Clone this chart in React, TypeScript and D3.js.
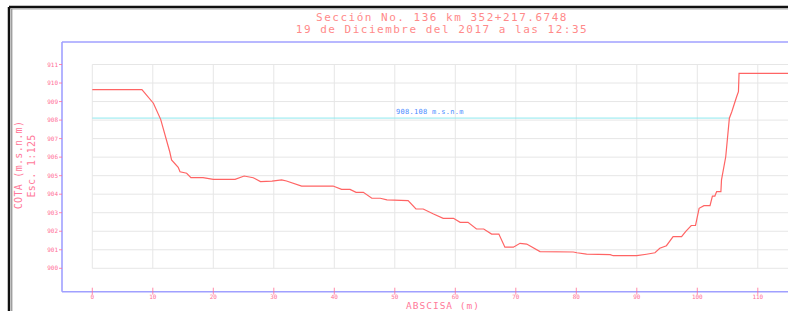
import React from "react";
import * as d3 from "d3";

// Terrain profile
const abscisa = [
  0, 8.2, 10.1, 11.3, 12.8, 13.1, 14.2, 14.5, 15.6, 16.3, 18.3, 20.0, 23.6,
  25.1, 26.6, 27.8, 29.7, 31.3, 32.1, 34.6, 39.8, 41.2, 42.6, 43.6, 44.8, 46.2,
  47.6, 48.7, 52.2, 53.5, 54.7, 56.4, 58.0, 59.7, 60.8, 62.1, 63.5, 64.7, 66.0,
  67.2, 68.2, 69.6, 70.7, 71.8, 74.0, 79.5, 80.1, 81.7, 85.6, 86.1, 90.0, 91.6,
  93.0, 93.8, 94.9, 96.0, 97.4, 98.1, 99.0, 99.7, 100.3, 101.1, 102.1, 102.5,
  102.9, 103.2, 103.9, 104.0, 104.7, 105.3, 105.7, 106.5, 106.8, 106.9, 120,
];
const cota = [
  909.64, 909.64, 908.91, 908.04, 906.29, 905.85, 905.45, 905.21, 905.13,
  904.89, 904.89, 904.8, 904.8, 904.98, 904.89, 904.68, 904.71, 904.77, 904.71,
  904.44, 904.44, 904.26, 904.26, 904.1, 904.1, 903.78, 903.78, 903.69, 903.65,
  903.2, 903.2, 902.93, 902.7, 902.7, 902.48, 902.48, 902.12, 902.12, 901.85,
  901.85, 901.14, 901.14, 901.35, 901.31, 900.9, 900.88, 900.84, 900.77,
  900.74, 900.68, 900.68, 900.76, 900.84, 901.08, 901.22, 901.71, 901.71,
  901.99, 902.31, 902.31, 903.24, 903.38, 903.38, 903.9, 903.9, 904.14, 904.14,
  904.77, 906.02, 908.1, 908.45, 909.26, 909.53, 910.52, 910.52,
];
const waterLevel = 908.108;
const waterExtent = [0, 105.3];
const gridX = [0, 10, 20, 30, 40, 50, 60, 70, 80, 90, 100, 110, 120];
const xTickLabels = [0, 10, 20, 30, 40, 50, 60, 70, 80, 90, 100, 110];
const yTicks = [900, 901, 902, 903, 904, 905, 906, 907, 908, 909, 910, 911];
const titleLines = [
  "Sección No. 136 km 352+217.6748",
  "19 de Diciembre del 2017 a las 12:35",
];

const W = 788;
const H = 311;
const cad = "'DejaVu Sans Mono', monospace";

const App: React.FC = () => {
  const x = d3.scaleLinear().domain([0, 120]).range([92.3, 818.3]);
  const y = d3.scaleLinear().domain([900, 911]).range([268.3, 64.5]);

  const pts: [number, number][] = abscisa.map((a, i) => [a, cota[i]]);
  const line = d3
    .line<[number, number]>()
    .x((d) => x(d[0]))
    .y((d) => y(d[1]));

  const axisLeft = 62;
  const axisTop = 42;
  const axisBottom = 291.7;

  return (
    <svg
      width={W}
      height={H}
      style={{ position: "absolute", left: 0, top: 0, background: "#fff" }}
    >
      {/* outer drawing frame */}
      <line x1={9} y1={7} x2={W} y2={7} stroke="#111" strokeWidth={2.5} />
      <line x1={9} y1={7} x2={9} y2={H} stroke="#111" strokeWidth={2.5} />
      <line x1={11.8} y1={9} x2={11.8} y2={H} stroke="#777" strokeWidth={1} />
      <line x1={11} y1={9} x2={W} y2={9} stroke="#999" strokeWidth={0.8} />

      {/* title */}
      {titleLines.map((t, i) => (
        <text
          key={i}
          x={442}
          y={21 + i * 12}
          textAnchor="middle"
          fontFamily={cad}
          fontSize={11}
          letterSpacing={1.5}
          fill="#ff8a8a"
        >
          {t}
        </text>
      ))}

      {/* grid */}
      {gridX.map((t) => (
        <line
          key={"gx" + t}
          x1={x(t)}
          x2={x(t)}
          y1={y(911)}
          y2={y(900)}
          stroke="#e6e6e6"
          strokeWidth={1}
        />
      ))}
      {yTicks.map((t) => (
        <line
          key={"gy" + t}
          x1={x(0)}
          x2={x(120)}
          y1={y(t)}
          y2={y(t)}
          stroke="#e6e6e6"
          strokeWidth={1}
        />
      ))}

      {/* axis frame */}
      <line x1={axisLeft} y1={axisTop} x2={W} y2={axisTop} stroke="#a0a0ff" strokeWidth={1.6} />
      <line x1={axisLeft} y1={axisTop} x2={axisLeft} y2={axisBottom} stroke="#a0a0ff" strokeWidth={1.6} />
      <line x1={axisLeft} y1={axisBottom} x2={W} y2={axisBottom} stroke="#a0a0ff" strokeWidth={1.6} />

      {/* y ticks */}
      {yTicks.map((t) => (
        <g key={"ty" + t}>
          <line x1={axisLeft - 3} x2={axisLeft} y1={y(t)} y2={y(t)} stroke="#ff6f96" strokeWidth={0.8} />
          <text
            x={axisLeft - 4}
            y={y(t) + 2}
            textAnchor="end"
            fontFamily={cad}
            fontSize={6}
            fill="#ff6f96"
          >
            {t}
          </text>
        </g>
      ))}

      {/* x ticks */}
      {xTickLabels.map((t) => (
        <g key={"tx" + t}>
          <line x1={x(t)} x2={x(t)} y1={axisBottom - 4} y2={axisBottom + 3} stroke="#ff6f96" strokeWidth={0.8} />
          <text
            x={x(t)}
            y={axisBottom + 7.3}
            textAnchor="middle"
            fontFamily={cad}
            fontSize={6}
            fill="#ff6f96"
          >
            {t}
          </text>
        </g>
      ))}

      {/* axis titles */}
      <text
        transform="translate(22,165) rotate(-90)"
        textAnchor="middle"
        fontFamily={cad}
        fontSize={10}
        letterSpacing={0.3}
        fill="#ff7a9a"
      >
        COTA (m.s.n.m)
      </text>
      <text
        transform="translate(35,166) rotate(-90)"
        textAnchor="middle"
        fontFamily={cad}
        fontSize={10}
        letterSpacing={0.3}
        fill="#ff7a9a"
      >
        Esc. 1:125
      </text>
      <text
        x={443}
        y={309}
        textAnchor="middle"
        fontFamily={cad}
        fontSize={9.5}
        letterSpacing={1}
        fill="#ff7a9a"
      >
        ABSCISA (m)
      </text>

      {/* water level */}
      <line
        x1={x(waterExtent[0])}
        x2={x(waterExtent[1])}
        y1={y(waterLevel)}
        y2={y(waterLevel)}
        stroke="#8ee8ee"
        strokeWidth={1}
      />
      <text
        x={x(50.2)}
        y={y(waterLevel) - 4.5}
        fontFamily={cad}
        fontSize={7}
        letterSpacing={0.3}
        fill="#4a8cff"
      >
        {waterLevel.toFixed(3)}  m.s.n.m
      </text>

      {/* terrain profile */}
      <path d={line(pts) || ""} fill="none" stroke="#ff6464" strokeWidth={1.2} />
    </svg>
  );
};

export default App;
